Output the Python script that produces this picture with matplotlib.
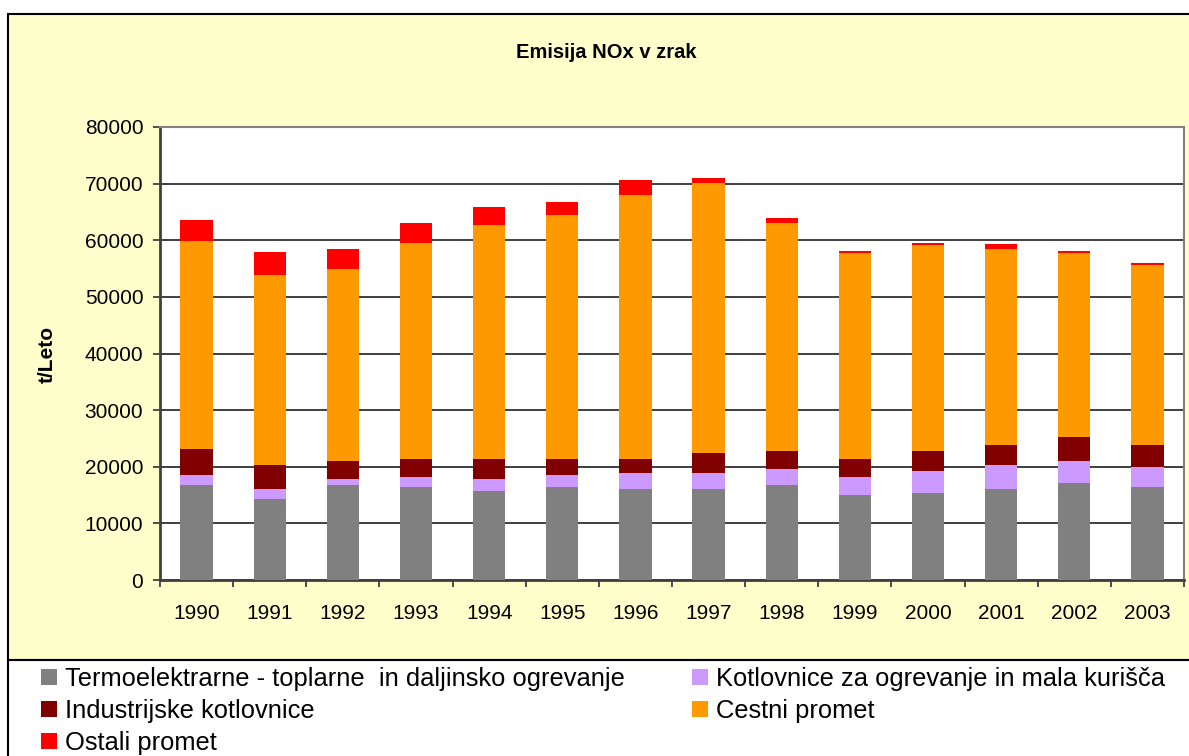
import matplotlib
matplotlib.use("Agg")
import matplotlib.pyplot as plt
from matplotlib.patches import Rectangle, Patch
import numpy as np

plt.rcParams['font.family'] = ['Liberation Sans', 'DejaVu Sans']

years = ['1990', '1991', '1992', '1993', '1994', '1995', '1996',
         '1997', '1998', '1999', '2000', '2001', '2002', '2003']
termo = [16780, 14300, 16780, 16430, 15720, 16430, 16070,
         16070, 16780, 15010, 15370, 16070, 17130, 16430]
kotlovnice = [1770, 1770, 1060, 1770, 2120, 2120, 2830,
              2830, 2820, 3190, 3880, 4240, 3890, 3530]
industrijske = [4590, 4240, 3180, 3170, 3530, 2820, 2470,
                3530, 3180, 3170, 3530, 3530, 4240, 3880]
cestni = [36750, 33570, 33920, 38170, 41350, 43120, 46630,
          47740, 40290, 36400, 36400, 34630, 32510, 31810]
ostali = [3710, 4070, 3530, 3530, 3180, 2290, 2640,
          830, 880, 350, 360, 890, 350, 350]

labels = ['Termoelektrarne - toplarne  in daljinsko ogrevanje',
          'Kotlovnice za ogrevanje in mala kurišča',
          'Industrijske kotlovnice',
          'Cestni promet',
          'Ostali promet']
colors = ['#808080', '#CC99FF', '#800000', '#FF9900', '#FF0000']
series = [termo, kotlovnice, industrijske, cestni, ostali]

W, H = 1189, 756
fig = plt.figure(figsize=(W / 100, H / 100), dpi=100)
fig.patch.set_facecolor('white')

# chart background (yellow) and legend area
fig.patches.append(Rectangle((8 / W, 1 - 660 / H), (W - 8) / W + 0.01, (660 - 14) / H,
                             transform=fig.transFigure, facecolor='#FFFFCC',
                             edgecolor='black', linewidth=1.5, zorder=-2))
fig.patches.append(Rectangle((8 / W, -0.01), (W - 8) / W + 0.01, (756 - 660) / H + 0.01,
                             transform=fig.transFigure, facecolor='white',
                             edgecolor='black', linewidth=1.5, zorder=-2))

ax = fig.add_axes([160 / W, 1 - 580 / H, (1184 - 160) / W, (580 - 127) / H])
ax.set_zorder(2)
ax.set_facecolor('white')
x = np.arange(len(years))
bottom = np.zeros(len(years))
handles = []
for vals, lab, col in zip(series, labels, colors):
    ax.bar(x, vals, width=0.44, bottom=bottom, color=col, label=lab, zorder=3)
    bottom += np.array(vals)
    handles.append(Patch(facecolor=col, label=lab))

ax.set_xlim(-0.5, len(years) - 0.5)
ax.set_ylim(0, 80000)
ax.set_yticks(np.arange(0, 80001, 10000))
ax.yaxis.grid(True, color='#303030', linewidth=1.3, zorder=1)
ax.set_axisbelow(True)
ax.set_xticks(x)
ax.set_xticklabels(years, fontsize=15)
ax.set_xticks(np.arange(-0.5, len(years), 1), minor=True)
ax.tick_params(axis='x', which='major', length=0, pad=17)
ax.tick_params(axis='x', which='minor', length=5, width=1.3, color='#404040', direction='out')
ax.tick_params(axis='y', labelsize=15, length=5, width=1.3, color='#404040', pad=7)
for s in ['top', 'right']:
    ax.spines[s].set_color('#808080')
    ax.spines[s].set_linewidth(1.5)
for s in ['left', 'bottom']:
    ax.spines[s].set_color('#404040')
    ax.spines[s].set_linewidth(2)

fig.text(606 / W, 1 - 52 / H, 'Emisija NOx v zrak', ha='center', va='center',
         fontsize=14.5, fontweight='bold')
fig.text(47 / W, 1 - 354 / H, 't/Leto', ha='center', va='center', rotation=90,
         fontsize=15, fontweight='bold')

leg_kw = dict(loc='upper left', frameon=False, fontsize=18.4, handlelength=0.625,
              handleheight=0.625, handletextpad=0.31, labelspacing=0.31,
              borderaxespad=0, borderpad=0)
leg1 = fig.legend([handles[0], handles[2], handles[4]],
                  [labels[0], labels[2], labels[4]],
                  bbox_to_anchor=(41 / W, 1 - 667 / H), **leg_kw)
leg2 = fig.legend([handles[1], handles[3]], [labels[1], labels[3]],
                  bbox_to_anchor=(692 / W, 1 - 667 / H), **leg_kw)

fig.savefig('out.png', dpi=100, facecolor='white')
